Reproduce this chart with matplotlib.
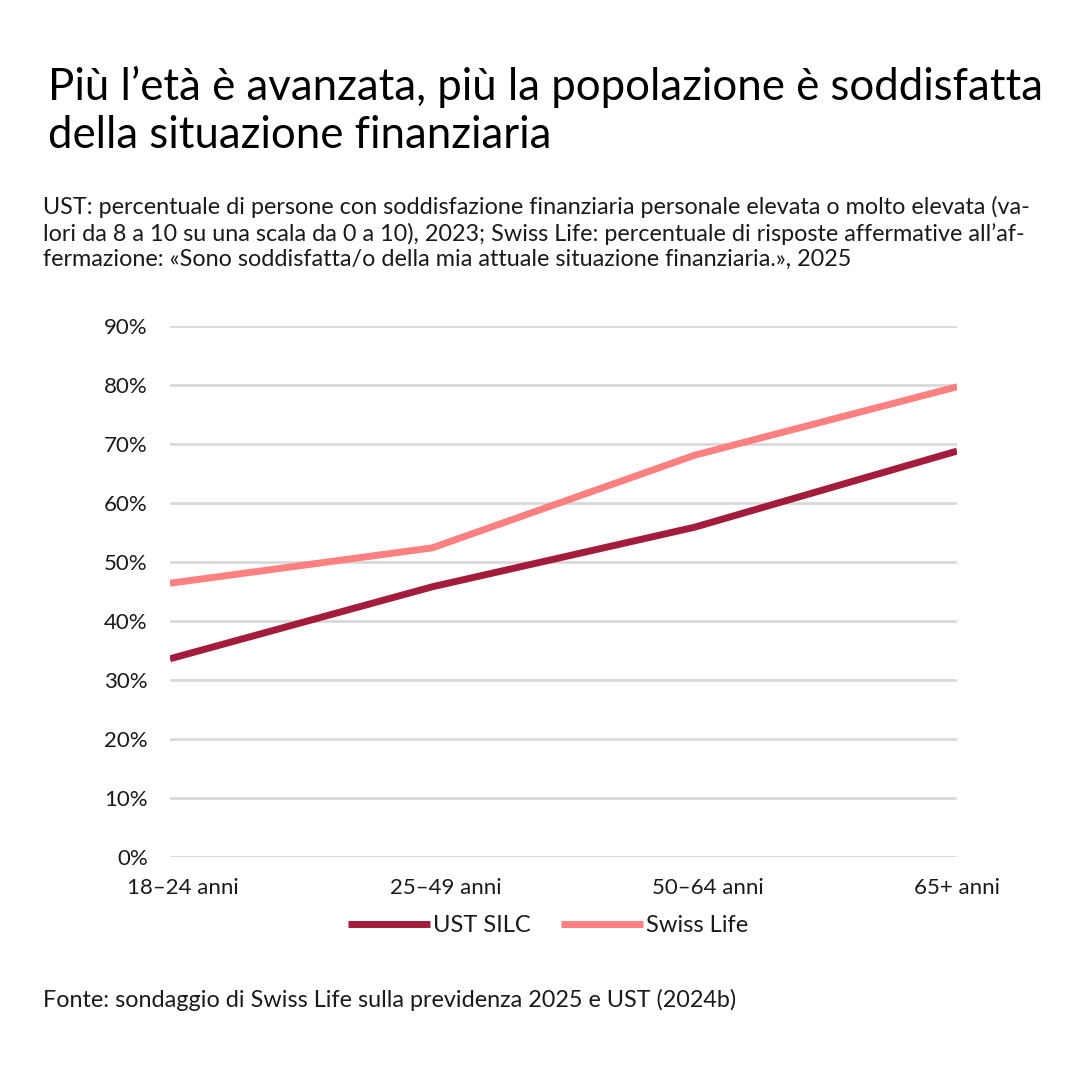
import matplotlib.pyplot as plt
import matplotlib.transforms as mtransforms

# data
categories = ['18–24 anni', '25–49 anni', '50–64 anni', '65+ anni']
ust_silc = [33.6, 45.8, 55.9, 68.8]
swiss_life = [46.4, 52.4, 68.1, 79.7]
y_ticks = [0, 10, 20, 30, 40, 50, 60, 70, 80, 90]

dark_red = '#a31c3b'
salmon = '#ff8080'
grid_col = '#d9d9d9'
text_col = '#1a1a1a'

plt.rcParams['font.family'] = ['Lato', 'DejaVu Sans']

fig = plt.figure(figsize=(10.8, 10.8), dpi=100)
ax = fig.add_axes([170 / 1080, 1 - 857 / 1080, (957 - 170) / 1080, (857 - 326) / 1080])

x = list(range(len(categories)))
ax.plot(x, ust_silc, color=dark_red, lw=5, label='UST SILC', solid_capstyle='butt', zorder=3)
ax.plot(x, swiss_life, color=salmon, lw=5, label='Swiss Life', solid_capstyle='butt', zorder=3)

ax.set_xlim(0, len(categories) - 1)
ax.set_ylim(0, 90)
ax.set_yticks(y_ticks)
ax.set_yticklabels([f'{v}%' for v in y_ticks])
ax.set_xticks(x)
ax.set_xticklabels(categories)
ax.yaxis.grid(True, color=grid_col, lw=2)
ax.set_axisbelow(True)
for s in ax.spines.values():
    s.set_visible(False)
ax.tick_params(axis='both', length=0, labelsize=16, colors=text_col)
ax.tick_params(axis='y', pad=16)
ax.tick_params(axis='x', pad=15)

# first labels sit a bit right of their category in the reference
shift = mtransforms.ScaledTranslation(13 / 100, 0, fig.dpi_scale_trans)
for lab in ax.get_xticklabels()[:-1]:
    lab.set_transform(lab.get_transform() + shift)

fig.text(48 / 1080, 1 - 148 / 1080,
         'Più l’età è avanzata, più la popolazione è soddisfatta\ndella situazione finanziaria',
         fontsize=31.5, color='black', va='baseline', ha='left', linespacing=1.21)

subtitle = ('UST: percentuale di persone con soddisfazione finanziaria personale elevata o molto elevata (va-\n'
            'lori da 8 a 10 su una scala da 0 a 10), 2023; Swiss Life: percentuale di risposte affermative all’af-\n'
            'fermazione: «Sono soddisfatta/o della mia attuale situazione finanziaria.», 2025')
fig.text(43 / 1080, 1 - 266 / 1080, subtitle, fontsize=16.8, color=text_col,
         va='baseline', ha='left', linespacing=1.24)

fig.text(43 / 1080, 1 - 1007 / 1080,
         'Fonte: sondaggio di Swiss Life sulla previdenza 2025 e UST (2024b)',
         fontsize=16.8, color=text_col, va='baseline', ha='left')

fig.legend(loc='center', bbox_to_anchor=(548 / 1080, 1 - 926 / 1080), ncol=2,
           frameon=False, fontsize=17, handlelength=3.47, handletextpad=0.13,
           columnspacing=1.3, labelcolor=text_col)

fig.savefig('out.png', dpi=100)
